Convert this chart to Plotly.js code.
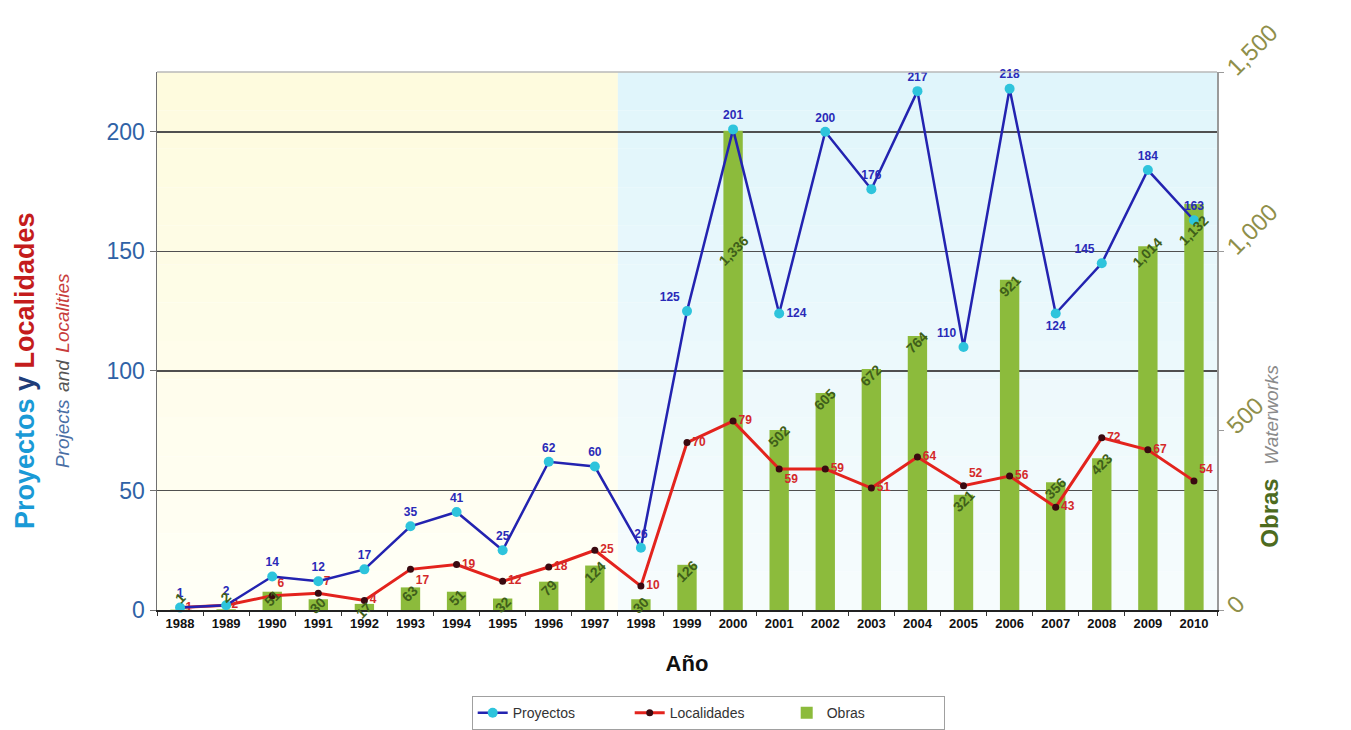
<!DOCTYPE html>
<html>
<head>
<meta charset="utf-8">
<script src="https://cdn.plot.ly/plotly-3.0.1.min.js"></script>
<style>html,body{margin:0;padding:0;background:#fff;}#chart{width:1351px;height:730px;}</style>
</head>
<body>
<div id="chart"></div>
<script>
// ---- data ----
const years = ['1988','1989','1990','1991','1992','1993','1994','1995','1996','1997','1998','1999','2000','2001','2002','2003','2004','2005','2006','2007','2008','2009','2010'];
const proyectos = [1, 2, 14, 12, 17, 35, 41, 25, 62, 60, 26, 125, 201, 124, 200, 176, 217, 110, 218, 124, 145, 184, 163];
const localidades = [1, 2, 6, 7, 4, 17, 19, 12, 18, 25, 10, 70, 79, 59, 59, 51, 64, 52, 56, 43, 72, 67, 54];
const obras = [1, 2, 51, 30, 17, 63, 51, 32, 79, 124, 30, 126, 1336, 502, 605, 672, 764, 321, 921, 356, 423, 1014, 1132];
const leftTicks = [0, 50, 100, 150, 200];
const rightTicks = [0, 500, 1000, 1500];

// ---- style helpers (not data) ----
const proyPos = years.map(() => 'top center');
proyPos[11] = 'top left'; proyPos[13] = 'middle right'; proyPos[17] = 'top left';
proyPos[19] = 'bottom center'; proyPos[20] = 'top left';
const locPos = years.map(() => 'middle right');
locPos[2] = 'top right'; locPos[3] = 'top right';
locPos[5] = 'bottom right'; locPos[13] = 'bottom right'; locPos[17] = 'top right'; locPos[22] = 'top right';
const barLabelShift = years.map(() => -6);
barLabelShift[0] = 12; barLabelShift[1] = 12; barLabelShift[12] = -120; barLabelShift[22] = -26;

const fmt = v => String(v).replace(/\B(?=(\d{3})+(?!\d))/g, ',');

const traces = [
  {
    type: 'bar', name: 'Obras', x: years, y: obras, yaxis: 'y',
    marker: {color: '#8cbb3c'}, width: 0.42, legendrank: 3
  },
  {
    type: 'scatter', mode: 'lines+markers+text', name: 'Localidades', x: years, y: localidades, yaxis: 'y2',
    line: {color: '#e3231d', width: 3}, marker: {color: '#3a0a10', size: 7},
    text: localidades.map(String), textposition: locPos,
    textfont: {family: 'Liberation Sans, Arial', size: 12, color: '#d42a2a', weight: 'bold'},
    legendrank: 2, cliponaxis: false
  },
  {
    type: 'scatter', mode: 'lines+markers+text', name: 'Proyectos', x: years, y: proyectos, yaxis: 'y2',
    line: {color: '#2323b0', width: 2.5}, marker: {color: '#2ec4dc', size: 10},
    text: proyectos.map(String), textposition: proyPos,
    textfont: {family: 'Liberation Sans, Arial', size: 12, color: '#2a2ab8', weight: 'bold'},
    legendrank: 1, cliponaxis: false
  }
];

const shapes = [];
const bands = 14;
for (let i = 0; i < bands; i++) {
  const t = i / (bands - 1);
  const y0 = i / bands, y1 = (i + 1) / bands;
  const mix = (a, b) => Math.round(a + (b - a) * t);
  const yel = `rgb(${mix(255,254)},${mix(255,251)},${mix(246,222)})`;
  const cya = `rgb(${mix(246,224)},${mix(252,245)},${mix(253,251)})`;
  shapes.push({type: 'rect', layer: 'below', xref: 'x', yref: 'paper', x0: -0.5, x1: 9.5, y0: y0, y1: y1, fillcolor: yel, line: {width: 0}});
  shapes.push({type: 'rect', layer: 'below', xref: 'x', yref: 'paper', x0: 9.5, x1: 22.5, y0: y0, y1: y1, fillcolor: cya, line: {width: 0}});
}
shapes.push({type: 'line', layer: 'above', xref: 'paper', yref: 'paper', x0: 0, x1: 1, y0: 1, y1: 1, line: {color: '#b8b8b8', width: 1.5}});

const annotations = [];
for (let i = 0; i < years.length; i++) {
  annotations.push({
    x: i, y: obras[i], xref: 'x', yref: 'y', text: '<b>' + fmt(obras[i]) + '</b>', showarrow: false,
    textangle: -45, yshift: barLabelShift[i], xanchor: 'center', yanchor: 'middle',
    font: {family: 'Liberation Sans, Arial', size: 14, color: '#3f5f1a'}
  });
}
annotations.push({
  xref: 'paper', yref: 'paper', x: -0.108, y: 0.445, showarrow: false, textangle: -90,
  xanchor: 'center', yanchor: 'middle', align: 'center',
  text: "<b><span style='color:#1a9ad6'>Proyectos</span> <span style='color:#1f3d7a'>y</span> <span style='color:#c41c1c'>Localidades</span></b><br><i><span style='color:#4a6fa5;font-size:19px'>Projects</span> <span style='color:#555;font-size:19px'>and</span> <span style='color:#c83c3c;font-size:19px'>Localities</span></i>",
  font: {family: 'Liberation Sans, Arial', size: 27, color: '#1a9ad6'}
});
annotations.push({
  xref: 'paper', yref: 'paper', x: 1.05, y: 0.285, showarrow: false, textangle: -90,
  xanchor: 'center', yanchor: 'middle',
  text: "<b><span style='color:#4d6b1f'>Obras</span></b>  <i><span style='color:#8a8a8a;font-size:19px'>Waterworks</span></i>",
  font: {family: 'Liberation Sans, Arial', size: 24, color: '#4d6b1f'}
});

const layout = {
  width: 1351, height: 730,
  margin: {l: 157, r: 134, t: 72, b: 120, autoexpand: false},
  paper_bgcolor: '#ffffff', plot_bgcolor: '#ffffff',
  font: {family: 'Liberation Sans, Arial', color: '#333'},
  showlegend: true,
  legend: {
    orientation: 'h', x: 0.52, xanchor: 'center', y: -0.16, yanchor: 'top',
    bordercolor: '#a0a0a0', borderwidth: 1, bgcolor: '#ffffff',
    font: {size: 14, color: '#333'}, traceorder: 'normal', entrywidth: 112
  },
  xaxis: {
    type: 'category', range: [-0.5, 22.5], tickson: 'boundaries', ticks: 'outside', ticklen: 4,
    tickcolor: '#333', showline: true, linecolor: '#222', linewidth: 2, showgrid: false,
    tickfont: {size: 13, color: '#111', weight: 'bold'}, automargin: false,
    title: {text: '<b>Año</b>', font: {size: 22, color: '#111'}, standoff: 26}
  },
  yaxis: {
    side: 'right', range: [0, 1500], tickvals: rightTicks, ticktext: rightTicks.map(fmt),
    showgrid: false, zeroline: false, showline: true, linecolor: '#9a9a9a', linewidth: 1.5,
    ticks: 'outside', ticklen: 5, tickcolor: '#9a9a9a', tickangle: -45, automargin: false,
    tickfont: {size: 24, color: '#8f8f4a'}
  },
  yaxis2: {
    overlaying: 'y', side: 'left', range: [0, 225], tickvals: leftTicks,
    showgrid: true, gridcolor: '#505050', gridwidth: 1.5, zeroline: false,
    showline: true, linecolor: '#707070', linewidth: 1.5, automargin: false,
    ticks: 'outside', ticklen: 6, tickcolor: '#707070',
    tickfont: {size: 23, color: '#2f62a6'}
  },
  shapes: shapes,
  annotations: annotations
};

Plotly.newPlot('chart', traces, layout, {displayModeBar: false, staticPlot: true});
</script>
</body>
</html>
